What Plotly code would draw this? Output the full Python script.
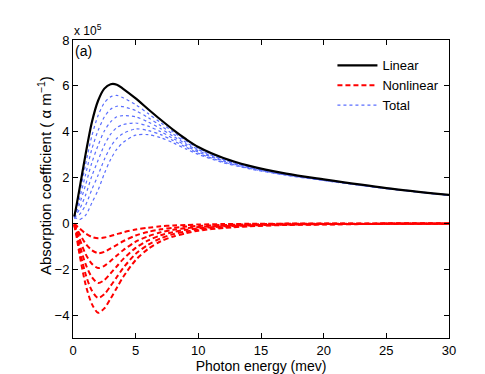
import plotly.graph_objects as go

# Photon energy (meV)
energy = [0.1, 0.25, 0.5, 1, 1.5, 2, 2.5, 3, 3.5, 4, 5, 6, 7, 8, 9, 10, 12, 14, 17, 20, 25, 30]

# Absorption coefficients in units of 1e5 m^-1
linear = [0.30, 0.70, 1.45, 3.00, 4.40, 5.35, 5.88, 6.07, 6.05, 5.87, 5.45, 4.98, 4.52, 4.08, 3.68, 3.33, 2.85, 2.52, 2.17, 1.92, 1.54, 1.24]

nonlinear_1 = [-0.01, -0.08, -0.21, -0.44, -0.59, -0.65, -0.62, -0.55, -0.47, -0.39, -0.27, -0.19, -0.13, -0.09, -0.07, -0.05, -0.03, -0.02, -0.01, -0.01, 0.00, 0.00]
nonlinear_2 = [-0.03, -0.16, -0.43, -0.88, -1.17, -1.30, -1.24, -1.09, -0.94, -0.78, -0.53, -0.37, -0.26, -0.19, -0.14, -0.11, -0.07, -0.04, -0.02, -0.02, -0.01, -0.01]
nonlinear_3 = [-0.04, -0.23, -0.64, -1.33, -1.76, -1.95, -1.85, -1.64, -1.40, -1.17, -0.80, -0.56, -0.39, -0.28, -0.21, -0.16, -0.10, -0.06, -0.04, -0.02, -0.01, -0.01]
nonlinear_4 = [-0.05, -0.31, -0.86, -1.77, -2.34, -2.60, -2.47, -2.18, -1.87, -1.56, -1.07, -0.74, -0.52, -0.38, -0.28, -0.22, -0.13, -0.09, -0.05, -0.03, -0.02, -0.01]
nonlinear_5 = [-0.07, -0.39, -1.07, -2.21, -2.93, -3.25, -3.09, -2.73, -2.34, -1.95, -1.33, -0.93, -0.65, -0.47, -0.35, -0.27, -0.17, -0.11, -0.06, -0.04, -0.02, -0.01]
nonlinear_6 = [-0.08, -0.47, -1.29, -2.65, -3.51, -3.90, -3.71, -3.28, -2.81, -2.34, -1.60, -1.11, -0.78, -0.57, -0.43, -0.32, -0.20, -0.13, -0.07, -0.05, -0.02, -0.02]

total_1 = [0.29, 0.62, 1.24, 2.56, 3.81, 4.70, 5.26, 5.52, 5.58, 5.48, 5.18, 4.79, 4.39, 3.99, 3.61, 3.28, 2.82, 2.50, 2.16, 1.91, 1.54, 1.24]
total_2 = [0.27, 0.54, 1.02, 2.12, 3.23, 4.05, 4.64, 4.98, 5.11, 5.09, 4.92, 4.61, 4.26, 3.89, 3.54, 3.22, 2.78, 2.48, 2.15, 1.90, 1.53, 1.23]
total_3 = [0.26, 0.47, 0.81, 1.67, 2.64, 3.40, 4.03, 4.43, 4.65, 4.70, 4.65, 4.42, 4.13, 3.80, 3.47, 3.17, 2.75, 2.46, 2.13, 1.90, 1.53, 1.23]
total_4 = [0.25, 0.39, 0.59, 1.23, 2.06, 2.75, 3.41, 3.89, 4.18, 4.31, 4.38, 4.24, 4.00, 3.70, 3.40, 3.11, 2.72, 2.43, 2.12, 1.89, 1.52, 1.23]
total_5 = [0.23, 0.31, 0.38, 0.79, 1.47, 2.10, 2.79, 3.34, 3.71, 3.92, 4.12, 4.05, 3.87, 3.61, 3.33, 3.06, 2.68, 2.41, 2.11, 1.88, 1.52, 1.23]
total_6 = [0.22, 0.23, 0.16, 0.35, 0.89, 1.45, 2.17, 2.79, 3.24, 3.53, 3.85, 3.87, 3.74, 3.51, 3.25, 3.01, 2.65, 2.39, 2.10, 1.87, 1.52, 1.22]

x_ticks = [0, 5, 10, 15, 20, 25, 30]
y_ticks = [-4, -2, 0, 2, 4, 6, 8]

nonlinear_sets = [nonlinear_1, nonlinear_2, nonlinear_3, nonlinear_4, nonlinear_5, nonlinear_6]
total_sets = [total_1, total_2, total_3, total_4, total_5, total_6]

FONT = "Liberation Sans, Arial, Helvetica, sans-serif"
BLUE = "rgb(90,110,255)"

fig = go.Figure()

for i, t in enumerate(total_sets):
    fig.add_trace(go.Scatter(
        x=energy, y=t, mode="lines", name="Total",
        line=dict(color=BLUE, width=1.2, dash="dot", shape="spline", smoothing=0.8),
        showlegend=(i == 0), legendrank=3, legendgroup="total"))

for i, n in enumerate(nonlinear_sets):
    fig.add_trace(go.Scatter(
        x=energy, y=n, mode="lines", name="Nonlinear",
        line=dict(color="red", width=2, dash="5px,3px", shape="spline", smoothing=0.8),
        showlegend=(i == 0), legendrank=2, legendgroup="nonlinear"))

fig.add_trace(go.Scatter(
    x=energy, y=linear, mode="lines", name="Linear",
    line=dict(color="black", width=2.2, shape="spline", smoothing=0.8),
    legendrank=1, legendgroup="linear"))

axis_common = dict(
    showgrid=False, zeroline=False, showline=True, linecolor="black", linewidth=1,
    mirror="ticks", ticks="inside", ticklen=5, tickcolor="black",
    tickfont=dict(family=FONT, size=13, color="black"),
)

fig.update_xaxes(range=[0, 30], tickvals=x_ticks, **axis_common,
                 title=dict(text="Photon energy (mev)", font=dict(family=FONT, size=14, color="black"), standoff=3))
fig.update_yaxes(range=[-5, 8], tickvals=y_ticks, **axis_common)

fig.add_annotation(
    xref="paper", yref="paper", x=-0.076, y=0.545, xanchor="center", yanchor="middle",
    text="Absorption coefficient ( \u03b1 m<sup>\u22121</sup>)", textangle=-90, showarrow=False,
    font=dict(family=FONT, size=15, color="black"))
fig.add_annotation(
    xref="paper", yref="paper", x=-0.003, y=1.0, xanchor="left", yanchor="bottom",
    text="x 10<sup>5</sup>", showarrow=False, font=dict(family=FONT, size=12, color="black"))
fig.add_annotation(
    xref="paper", yref="paper", x=0.0, y=0.995, xanchor="left", yanchor="top",
    text="(a)", showarrow=False, font=dict(family=FONT, size=14, color="black"))

fig.update_layout(
    width=485, height=374,
    margin=dict(l=65, r=44, t=32, b=38),
    paper_bgcolor="white", plot_bgcolor="white",
    font=dict(family=FONT, size=12, color="black"),
    legend=dict(x=0.69, y=0.965, xanchor="left", yanchor="top",
                bgcolor="rgba(0,0,0,0)", borderwidth=0,
                font=dict(family=FONT, size=13, color="black"),
                tracegroupgap=0, itemwidth=40),
)

fig.write_html("out.html")
